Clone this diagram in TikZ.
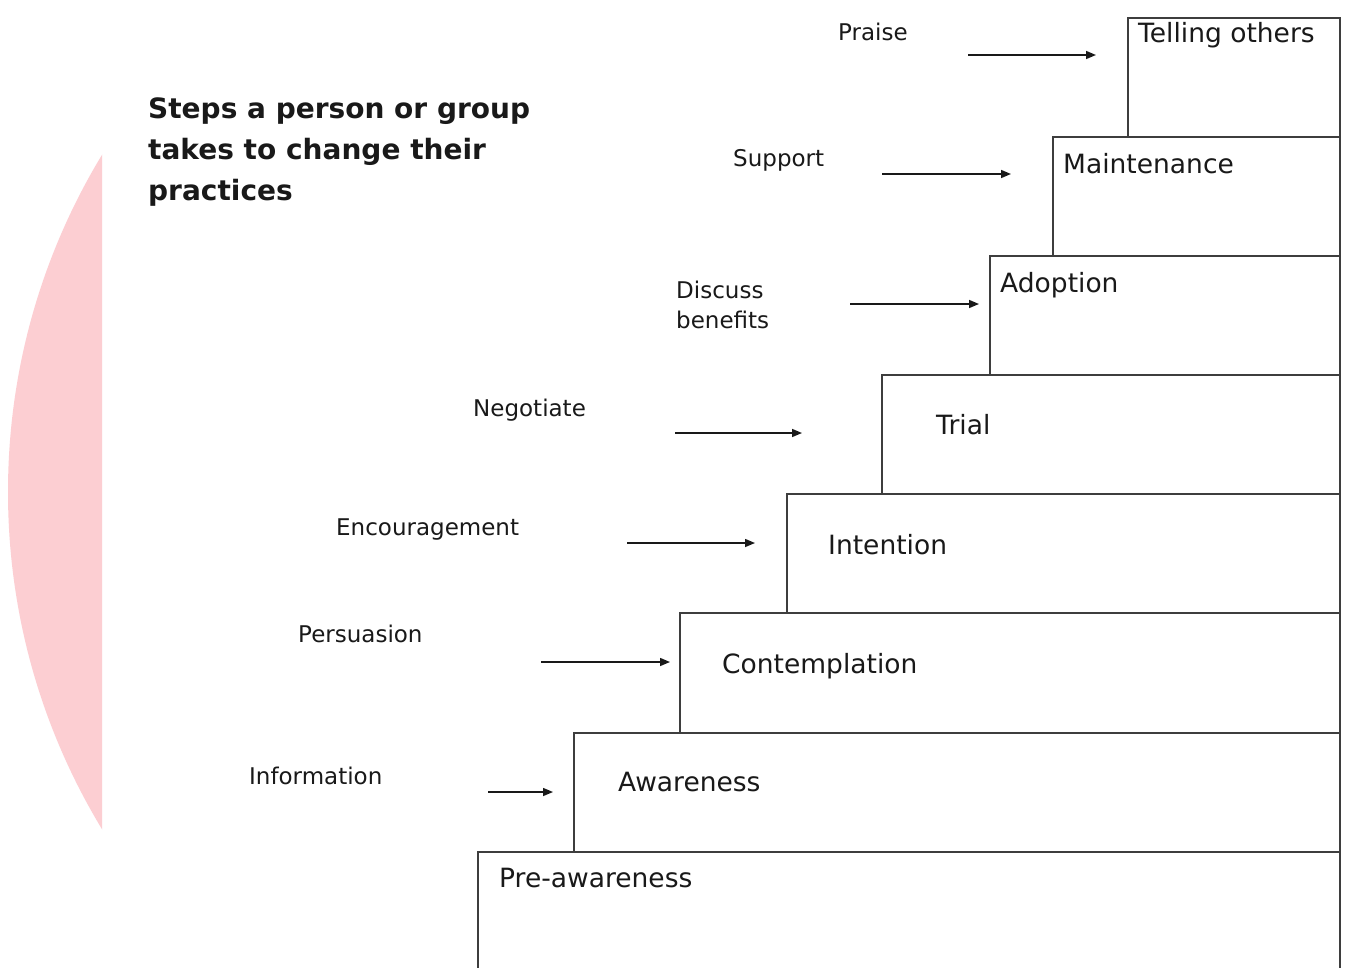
\documentclass[tikz,border=0pt]{standalone}
\usepackage{fontspec}
\setmainfont{DejaVu Sans}
\usetikzlibrary{arrows.meta}
\definecolor{pinkbg}{RGB}{252,206,210}
\definecolor{stepline}{RGB}{62,62,62}
\definecolor{ink}{RGB}{25,25,25}
\begin{document}
\begin{tikzpicture}[x=1pt,y=-1pt,
  stepbox/.style={draw=stepline, line width=2.2pt},
  steplabel/.style={anchor=base west, inner sep=0pt, text=ink, font=\fontsize{26.5}{30}\selectfont},
  actlabel/.style={anchor=base west, inner sep=0pt, text=ink, font=\fontsize{23}{30}\selectfont},
  flow/.style={draw=ink, line width=1.5pt, -{Triangle[length=10pt,width=8pt]}}]
\useasboundingbox (0,0) rectangle (1346,967);
\fill[white] (0,0) rectangle (1346,967);
% pink background disc
\begin{scope}
  \clip (0,0) rectangle (102,967);
  \fill[pinkbg] (659,492) circle (651pt);
\end{scope}
% title (base anchor = baseline of last line)
\node[anchor=base west, inner sep=0pt, text=ink, align=left,
      font=\bfseries\fontsize{28}{41}\selectfont] (title) at (148,200)
  {Steps a person or group\\takes to change their\\practices};
% staircase
\draw[stepbox] (478,852) rectangle (1340,990);
\draw[stepbox] (574,733) rectangle (1340,852);
\draw[stepbox] (680,613) rectangle (1340,733);
\draw[stepbox] (787,494) rectangle (1340,613);
\draw[stepbox] (882,375) rectangle (1340,494);
\draw[stepbox] (990,256) rectangle (1340,375);
\draw[stepbox] (1053,137) rectangle (1340,256);
\draw[stepbox] (1128,18) rectangle (1340,137);
% stage labels
\node[steplabel] (tell) at (1138,42) {Telling others};
\node[steplabel] (main) at (1063,173) {Maintenance};
\node[steplabel] (adop) at (1000,292) {Adoption};
\node[steplabel] (trial) at (936,434) {Trial};
\node[steplabel] (inte) at (828,554) {Intention};
\node[steplabel] (cont) at (722,673) {Contemplation};
\node[steplabel] (awar) at (618,791) {Awareness};
\node[steplabel] (prea) at (499,887) {Pre-awareness};
% activity labels
\node[actlabel] (praise) at (838,40) {Praise};
\node[actlabel] (supp) at (733,166) {Support};
\node[actlabel, align=left] (disc) at (676,328) {Discuss\\benefits};
\node[actlabel] (nego) at (473,416) {Negotiate};
\node[actlabel] (enco) at (336,535) {Encouragement};
\node[actlabel] (pers) at (298,642) {Persuasion};
\node[actlabel] (info) at (249,784) {Information};
% arrow end points
\coordinate (a1s) at (968,55);  \coordinate (a1e) at (1096,55);
\coordinate (a2s) at (882,174); \coordinate (a2e) at (1011,174);
\coordinate (a3s) at (850,304); \coordinate (a3e) at (979,304);
\coordinate (a4s) at (675,433); \coordinate (a4e) at (802,433);
\coordinate (a5s) at (627,543); \coordinate (a5e) at (755,543);
\coordinate (a6s) at (541,662); \coordinate (a6e) at (670,662);
\coordinate (a7s) at (488,792); \coordinate (a7e) at (553,792);
\draw[flow] (a1s) -- (a1e);
\draw[flow] (a2s) -- (a2e);
\draw[flow] (a3s) -- (a3e);
\draw[flow] (a4s) -- (a4e);
\draw[flow] (a5s) -- (a5e);
\draw[flow] (a6s) -- (a6e);
\draw[flow] (a7s) -- (a7e);
\end{tikzpicture}
\end{document}
